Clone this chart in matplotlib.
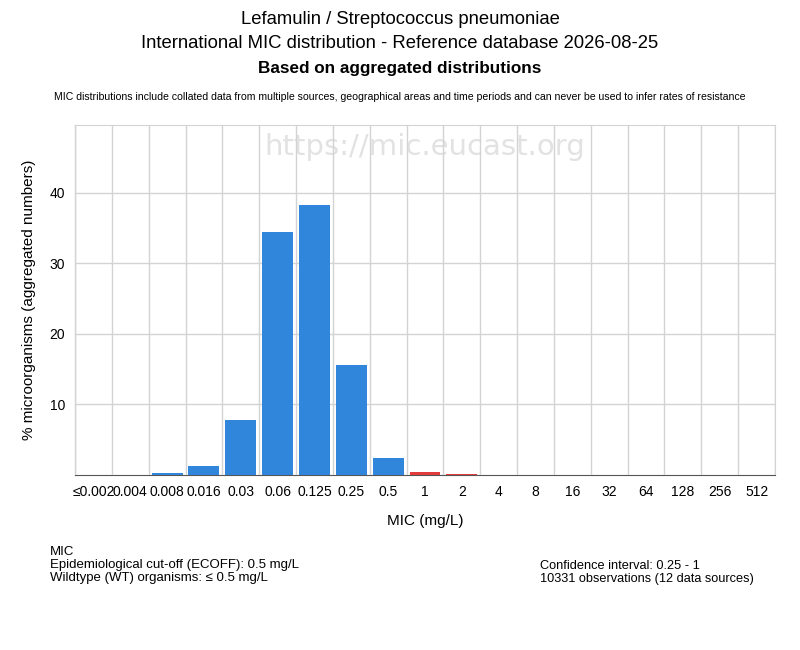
import matplotlib
matplotlib.use("Agg")
import matplotlib.pyplot as plt
import numpy as np

categories = ["≤0.002", "0.004", "0.008", "0.016", "0.03", "0.06", "0.125", "0.25", "0.5",
              "1", "2", "4", "8", "16", "32", "64", "128", "256", "512"]
values = [0, 0, 0.3, 1.3, 7.8, 34.5, 38.3, 15.6, 2.4, 0.45, 0.17, 0, 0, 0, 0, 0, 0, 0, 0]
ecoff_index = 8  # 0.5 mg/L
yticks = [10, 20, 30, 40]

plt.rcParams['font.family'] = ['Liberation Sans', 'DejaVu Sans']

fig = plt.figure(figsize=(8, 6.5), dpi=100)
ax = fig.add_axes([75/800, 1-475/650, 700/800, 350/650])

x = np.arange(len(categories))
colors = ["#2F86DA" if i <= ecoff_index else "#E23B3B" for i in range(len(categories))]
ax.bar(x, values, width=0.84, color=colors, zorder=3)

ax.set_xlim(-0.5, len(categories) - 0.5)
ax.set_ylim(0, 49.6)
ax.set_xticks(x)
ax.set_xticklabels(categories, fontsize=10)
ax.set_xticks(np.arange(-0.5, len(categories)), minor=True)
ax.set_yticks(yticks)
ax.set_yticklabels([str(t) for t in yticks], fontsize=10)
ax.tick_params(axis='both', which='both', length=0, pad=7)
ax.grid(True, axis='x', which='minor', color='#D3D3D3', linewidth=1, zorder=2)
ax.grid(True, axis='y', which='major', color='#D3D3D3', linewidth=1, zorder=2)
ax.set_axisbelow(False)
for s in ['top', 'right']:
    ax.spines[s].set_color('#D3D3D3')
for s in ['left', 'bottom']:
    ax.spines[s].set_color('#555555')

ax.set_xlabel("MIC (mg/L)", fontsize=11, labelpad=11)
ax.set_ylabel("% microorganisms (aggregated numbers)", fontsize=11, labelpad=10)

ax.text(0.5, 1-22/350, "https://mic.eucast.org", transform=ax.transAxes, ha='center', va='center',
        fontsize=21, color='#E2E2E2', zorder=1, family='DejaVu Sans')

fig.text(0.5, 1-19/650, "Lefamulin / Streptococcus pneumoniae", ha='center', va='center', fontsize=13.3)
fig.text(0.5, 1-44/650, "International MIC distribution - Reference database 2026-08-25", ha='center', va='center', fontsize=13.3)
fig.text(0.5, 1-69/650, "Based on aggregated distributions", ha='center', va='center', fontsize=12.3, fontweight='bold')
fig.text(0.5, 1-97/650, "MIC distributions include collated data from multiple sources, geographical areas and time periods and can never be used to infer rates of resistance",
         ha='center', va='center', fontsize=7.6)

fig.text(50/800, 1-552/650, "MIC", ha='left', va='center', fontsize=9.5)
fig.text(50/800, 1-565/650, "Epidemiological cut-off (ECOFF): 0.5 mg/L", ha='left', va='center', fontsize=9.5)
fig.text(50/800, 1-578/650, "Wildtype (WT) organisms: ≤ 0.5 mg/L", ha='left', va='center', fontsize=9.5)
fig.text(540/800, 1-566/650, "Confidence interval: 0.25 - 1", ha='left', va='center', fontsize=9.2)
fig.text(540/800, 1-579/650, "10331 observations (12 data sources)", ha='left', va='center', fontsize=9.2)

fig.savefig("out.png", dpi=100)
